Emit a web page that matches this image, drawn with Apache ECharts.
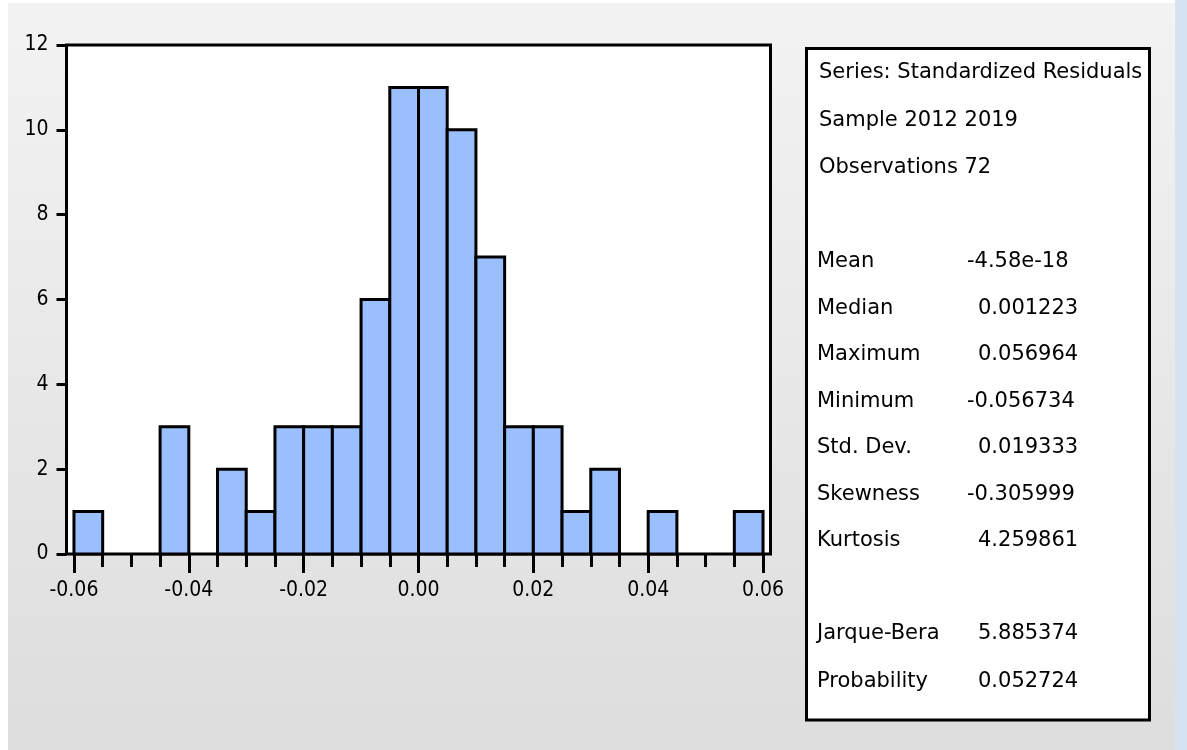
<!DOCTYPE html>
<html>
<head>
<meta charset="utf-8">
<script src="https://cdn.jsdelivr.net/npm/echarts@6/dist/echarts.min.js"></script>
<style>
  html, body { margin: 0; padding: 0; background: #fff; }
  #chart { width: 1187px; height: 750px; }
</style>
</head>
<body>
<div id="chart"></div>
<script>
// histogram bins (left edge, right edge) and counts
const binLeft = [-0.060, -0.055, -0.050, -0.045, -0.040, -0.035, -0.030, -0.025,
                 -0.020, -0.015, -0.010, -0.005, 0.000, 0.005, 0.010, 0.015,
                 0.020, 0.025, 0.030, 0.035, 0.040, 0.045, 0.050, 0.055];
const binRight = [-0.055, -0.050, -0.045, -0.040, -0.035, -0.030, -0.025, -0.020,
                  -0.015, -0.010, -0.005, 0.000, 0.005, 0.010, 0.015, 0.020,
                  0.025, 0.030, 0.035, 0.040, 0.045, 0.050, 0.055, 0.060];
const counts = [1, 0, 0, 3, 0, 2, 1, 3, 3, 3, 6, 11, 11, 10, 7, 3, 3, 1, 2, 0, 1, 0, 0, 1];

const xMajorTicks = [-0.06, -0.04, -0.02, 0, 0.02, 0.04, 0.06];
const xTickLabels = ['-0.06', '-0.04', '-0.02', '0.00', '0.02', '0.04', '0.06'];
const xMinorTicks = [-0.055, -0.05, -0.045, -0.035, -0.03, -0.025, -0.015, -0.01, -0.005,
                     0.005, 0.01, 0.015, 0.025, 0.03, 0.035, 0.045, 0.05, 0.055];

// descriptive statistics panel
const statHeader = ['Series: Standardized Residuals', 'Sample 2012 2019', 'Observations 72'];
const statNames = ['Mean', 'Median', 'Maximum', 'Minimum', 'Std. Dev.', 'Skewness', 'Kurtosis'];
const statValues = ['-4.58e-18', '0.001223', '0.056964', '-0.056734', '0.019333', '-0.305999', '4.259861'];
const testNames = ['Jarque-Bera', 'Probability'];
const testValues = ['5.885374', '0.052724'];

const axisFont = '"DejaVu Sans Condensed", "DejaVu Sans", sans-serif';
const panelFont = '"DejaVu Sans", sans-serif';

const histData = binLeft.map((l, i) => [l, binRight[i], counts[i]]);

function textItem(text, x, y) {
  return {
    type: 'text', x: x, y: y, z: 10,
    style: { text: text, fill: '#000', font: '21px ' + panelFont, verticalAlign: 'middle', align: 'left' }
  };
}

function valueX(v) {
  return v.charAt(0) === '-' ? 967 : 978;
}

const panelItems = [];
statHeader.forEach((t, i) => panelItems.push(textItem(t, 819, 73 + i * 47.5)));
statNames.forEach((t, i) => {
  panelItems.push(textItem(t, 817, 262 + i * 46.5));
  panelItems.push(textItem(statValues[i], valueX(statValues[i]), 262 + i * 46.5));
});
testNames.forEach((t, i) => {
  panelItems.push(textItem(t, 817, 634 + i * 47.5));
  panelItems.push(textItem(testValues[i], valueX(testValues[i]), 634 + i * 47.5));
});

const chart = echarts.init(document.getElementById('chart'));

const gridBox = { left: 66.5, top: 45, width: 704, height: 509 };

const option = {
  animation: false,
  backgroundColor: {
    type: 'linear', x: 0, y: 0, x2: 0, y2: 1,
    colorStops: [{ offset: 0, color: '#F3F3F3' }, { offset: 1, color: '#DDDDDD' }]
  },
  graphic: [
    { type: 'rect', shape: { x: 0, y: 0, width: 8, height: 750 }, style: { fill: '#fff' }, z: 0 },
    { type: 'rect', shape: { x: 0, y: 0, width: 1187, height: 3 }, style: { fill: '#fff' }, z: 0 },
    { type: 'rect', shape: { x: 1175, y: 0, width: 12, height: 750 }, style: { fill: '#D6E3F2' }, z: 0 },
    {
      type: 'rect', z: 5,
      shape: { x: 806.5, y: 48.5, width: 343, height: 671.5 },
      style: { fill: '#fff', stroke: '#000', lineWidth: 3 }
    }
  ].concat(panelItems),
  grid: [
    Object.assign({ show: true, backgroundColor: '#fff', borderColor: '#000', borderWidth: 3 }, gridBox),
    Object.assign({ show: false }, gridBox)
  ],
  xAxis: [
    {
      type: 'value', gridIndex: 0, min: -0.0613, max: 0.0613, position: 'bottom',
      axisLine: { show: false, onZero: false },
      splitLine: { show: false },
      axisTick: { show: true, customValues: xMajorTicks, length: 19, lineStyle: { color: '#000', width: 3 } },
      axisLabel: {
        customValues: xMajorTicks,
        formatter: v => xTickLabels[xMajorTicks.findIndex(t => Math.abs(t - v) < 1e-9)],
        color: '#000', fontSize: 21, fontFamily: axisFont, margin: 26
      }
    },
    {
      type: 'value', gridIndex: 1, min: -0.0613, max: 0.0613, position: 'bottom',
      axisLine: { show: false, onZero: false },
      splitLine: { show: false },
      axisTick: { show: true, customValues: xMinorTicks, length: 13, lineStyle: { color: '#000', width: 3 } },
      axisLabel: { show: false }
    }
  ],
  yAxis: [
    {
      type: 'value', gridIndex: 0, min: 0, max: 12, interval: 2, position: 'left',
      axisLine: { show: false, onZero: false },
      splitLine: { show: false },
      axisTick: { show: true, length: 10, lineStyle: { color: '#000', width: 3 } },
      axisLabel: { color: '#000', fontSize: 21, fontFamily: axisFont, margin: 18 }
    },
    {
      type: 'value', gridIndex: 1, min: 0, max: 12, show: false
    }
  ],
  series: [
    {
      type: 'custom',
      xAxisIndex: 0,
      yAxisIndex: 0,
      data: histData,
      renderItem: function (params, api) {
        const c = api.value(2);
        if (!c) return null;
        const p0 = api.coord([api.value(0), c]);
        const p1 = api.coord([api.value(1), 0]);
        return {
          type: 'rect',
          shape: { x: p0[0], y: p0[1], width: p1[0] - p0[0], height: p1[1] - p0[1] },
          style: { fill: '#99BFFF', stroke: '#000', lineWidth: 3 }
        };
      }
    }
  ]
};

chart.setOption(option);
</script>
</body>
</html>
